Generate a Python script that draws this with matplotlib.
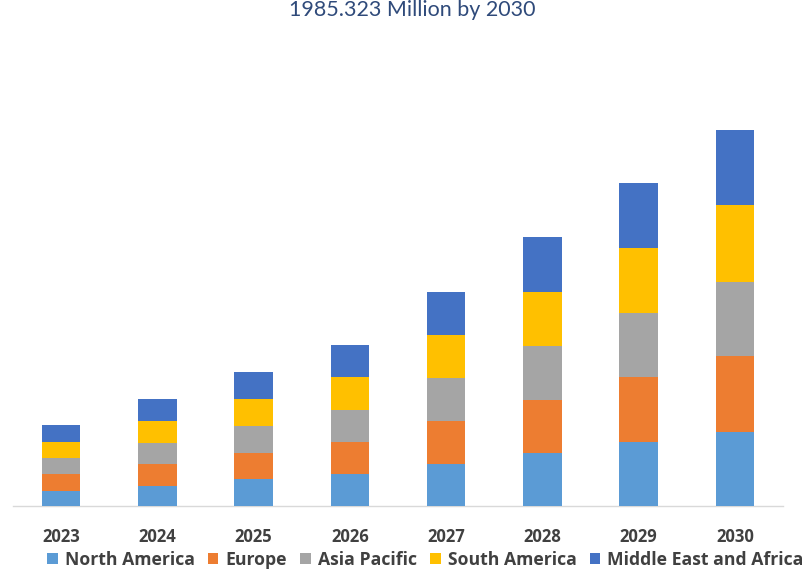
import matplotlib.pyplot as plt
import numpy as np

years = ["2023", "2024", "2025", "2026", "2027", "2028", "2029", "2030"]
regions = ["North America", "Europe", "Asia Pacific", "South America", "Middle East and Africa"]
north_america = [80, 108, 140, 168, 222, 280, 338, 391]
europe = [88, 112, 142, 170, 226, 282, 343, 401]
asia_pacific = [85, 113, 141, 170, 226, 285, 338, 391]
south_america = [86, 115, 142, 171, 228, 285, 343, 407]
middle_east_africa = [88, 117, 142, 171, 228, 288, 343, 395]
colors = ["#5B9BD5", "#ED7D31", "#A5A5A5", "#FFC000", "#4472C4"]
title_text = "1985.323 Million by 2030"

series = [north_america, europe, asia_pacific, south_america, middle_east_africa]

fig = plt.figure(figsize=(8.03, 5.74), dpi=100)
ax = fig.add_axes([13 / 803, 68 / 574, 770 / 803, 466 / 574])

x = np.arange(len(years))
bottom = np.zeros(len(years))
handles = []
for name, vals, col in zip(regions, series, colors):
    b = ax.bar(x, vals, width=0.4, bottom=bottom, color=col, label=name, zorder=3)
    handles.append(b)
    bottom += np.array(vals)

ax.set_xlim(-0.5, 7.5)
ax.set_ylim(0, 466 / 376 * 1985.3)
for s in ["top", "left", "right"]:
    ax.spines[s].set_visible(False)
ax.spines["bottom"].set_color("#D9D9D9")
ax.spines["bottom"].set_linewidth(1)
ax.set_yticks([])
ax.set_xticks(x)
ax.set_xticklabels(years, fontsize=12, family="Open Sans", fontweight="bold", color="#404040")
ax.tick_params(axis="x", length=0, pad=16)

fig.text(0.513, 1 - 16 / 574, title_text, ha="center", va="baseline", fontsize=15.5,
         family="Lato", color="#2F4A7A")

fig.legend(handles, regions, loc="center left", bbox_to_anchor=(47 / 803, 1 - 560 / 574),
           ncol=5, frameon=False, handlelength=0.6, handleheight=0.6, handletextpad=0.4,
           columnspacing=0.75, borderpad=0, borderaxespad=0,
           prop={"family": "Open Sans", "weight": "bold", "size": 12.7}, labelcolor="#404040")

fig.savefig("out.png", dpi=100)
